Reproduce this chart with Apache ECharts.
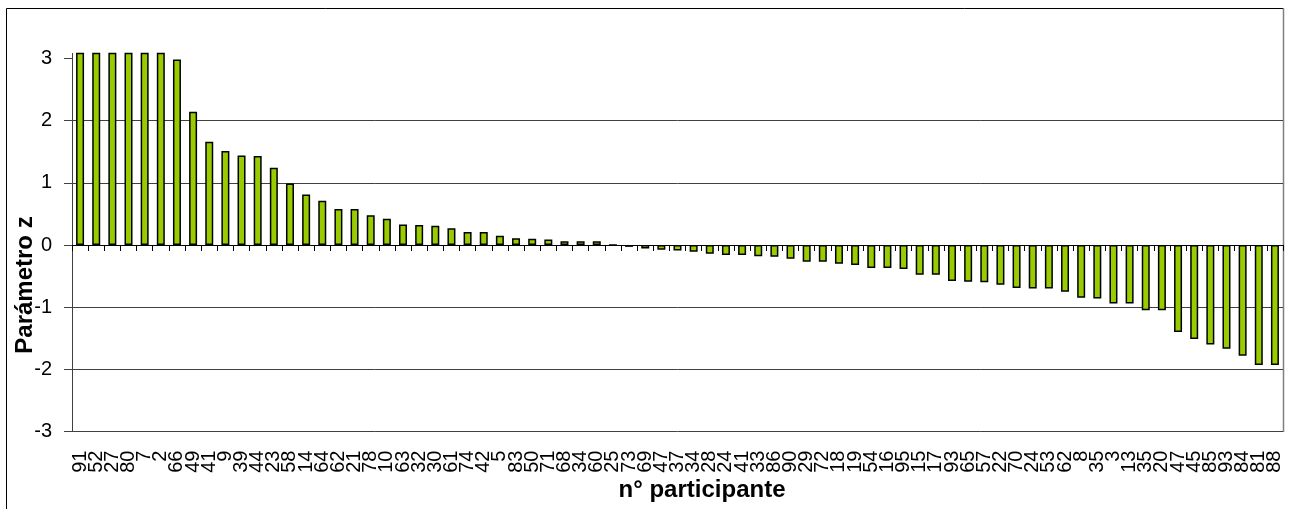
<!DOCTYPE html>
<html>
<head>
<meta charset="utf-8">
<title>Parámetro z por participante</title>
<script src="https://cdn.jsdelivr.net/npm/echarts@6/dist/echarts.min.js"></script>
<style>
  html, body { margin: 0; padding: 0; background: #ffffff; }
  #chart { width: 1290px; height: 509px; }
</style>
</head>
<body>
<div id="chart"></div>
<script>
// Participant numbers, in the order the bars are drawn (sorted by z)
const participants = [
  '91','52','27','80','7','2','66','49','41','9',
  '39','44','23','58','14','64','62','21','78','10',
  '63','32','30','61','74','42','5','83','50','71',
  '68','34','60','25','73','69','47','37','34','28',
  '24','41','33','86','90','29','72','18','19','54',
  '16','95','15','17','93','65','57','22','70','24',
  '53','62','8','35','3','13','35','20','47','45',
  '85','93','84','81','88'
];

// z parameter for each participant (the first six run past the top of the axis)
const zValues = [
  3.6, 3.5, 3.4, 3.3, 3.2, 3.1, 2.98, 2.14, 1.66, 1.51,
  1.44, 1.43, 1.24, 0.99, 0.81, 0.71, 0.58, 0.58, 0.48, 0.42,
  0.33, 0.32, 0.31, 0.27, 0.21, 0.21, 0.15, 0.11, 0.10, 0.09,
  0.06, 0.06, 0.06, 0, -0.03, -0.055, -0.075, -0.09, -0.11, -0.14,
  -0.16, -0.16, -0.18, -0.19, -0.22, -0.27, -0.27, -0.30, -0.32, -0.37,
  -0.37, -0.385, -0.48, -0.48, -0.58, -0.59, -0.60, -0.64, -0.69, -0.70,
  -0.70, -0.75, -0.85, -0.86, -0.94, -0.94, -1.05, -1.05, -1.40, -1.51,
  -1.60, -1.67, -1.78, -1.93, -1.93
];

// Value axis tick labels
const yTicks = [-3, -2, -1, 0, 1, 2, 3];

const FONT = '"Liberation Sans", Arial, Helvetica, sans-serif';

const chart = echarts.init(document.getElementById('chart'), null, { renderer: 'canvas' });

chart.setOption({
  animation: false,
  backgroundColor: '#ffffff',
  grid: { left: 72, right: 7, top: 53.4, bottom: 77.4, containLabel: false },
  xAxis: [
    {
      // axis through zero carrying the bars and the boundary ticks
      type: 'category',
      data: participants,
      axisLine: { show: true, onZero: true, lineStyle: { color: '#000000', width: 1 } },
      axisTick: { show: true, alignWithLabel: false, interval: 0, length: 6, lineStyle: { color: '#000000', width: 1 } },
      axisLabel: { show: false },
      splitLine: { show: false }
    },
    {
      // participant numbers along the bottom of the plot
      type: 'category',
      data: participants,
      position: 'bottom',
      axisLine: { show: false, onZero: false },
      axisTick: { show: false },
      axisLabel: {
        interval: 0,
        rotate: 90,
        margin: 19,
        fontSize: 20,
        fontFamily: FONT,
        color: '#000000'
      },
      splitLine: { show: false }
    }
  ],
  yAxis: {
    type: 'value',
    min: -3,
    max: 3.08,
    interval: 1,
    axisLine: { show: true, onZero: false, lineStyle: { color: '#404040', width: 1 } },
    axisTick: { show: true, length: 8, customValues: yTicks, lineStyle: { color: '#404040', width: 1 } },
    axisLabel: {
      customValues: yTicks,
      formatter: v => (Number.isInteger(v) ? String(v) : ''),
      margin: 20,
      fontSize: 20,
      fontFamily: FONT,
      color: '#000000'
    },
    splitLine: { show: true, showMaxLine: false, lineStyle: { color: '#404040', width: 1 } }
  },
  series: [
    {
      name: 'Parámetro z',
      type: 'bar',
      xAxisIndex: 0,
      data: zValues,
      barWidth: 8,
      clip: true,
      itemStyle: { color: '#99cc00', borderColor: '#000000', borderWidth: 1.5 }
    }
  ],
  graphic: [
    // chart frame
    { type: 'line', silent: true, shape: { x1: 6.5, y1: 8.5, x2: 1283.5, y2: 8.5 }, style: { stroke: '#000000', lineWidth: 1 } },
    { type: 'line', silent: true, shape: { x1: 6.5, y1: 8.5, x2: 6.5, y2: 509 }, style: { stroke: '#000000', lineWidth: 1 } },
    { type: 'line', silent: true, shape: { x1: 1283.5, y1: 8.5, x2: 1283.5, y2: 432 }, style: { stroke: '#808080', lineWidth: 1.5 } },
    // axis titles
    {
      type: 'text', silent: true, x: 25, y: 285, rotation: Math.PI / 2,
      style: { text: 'Parámetro z', font: 'bold 24px ' + FONT, fill: '#000000', align: 'center', verticalAlign: 'middle' }
    },
    {
      type: 'text', silent: true, x: 702, y: 490,
      style: { text: 'n° participante', font: 'bold 24px ' + FONT, fill: '#000000', align: 'center', verticalAlign: 'middle' }
    }
  ]
});
</script>
</body>
</html>
